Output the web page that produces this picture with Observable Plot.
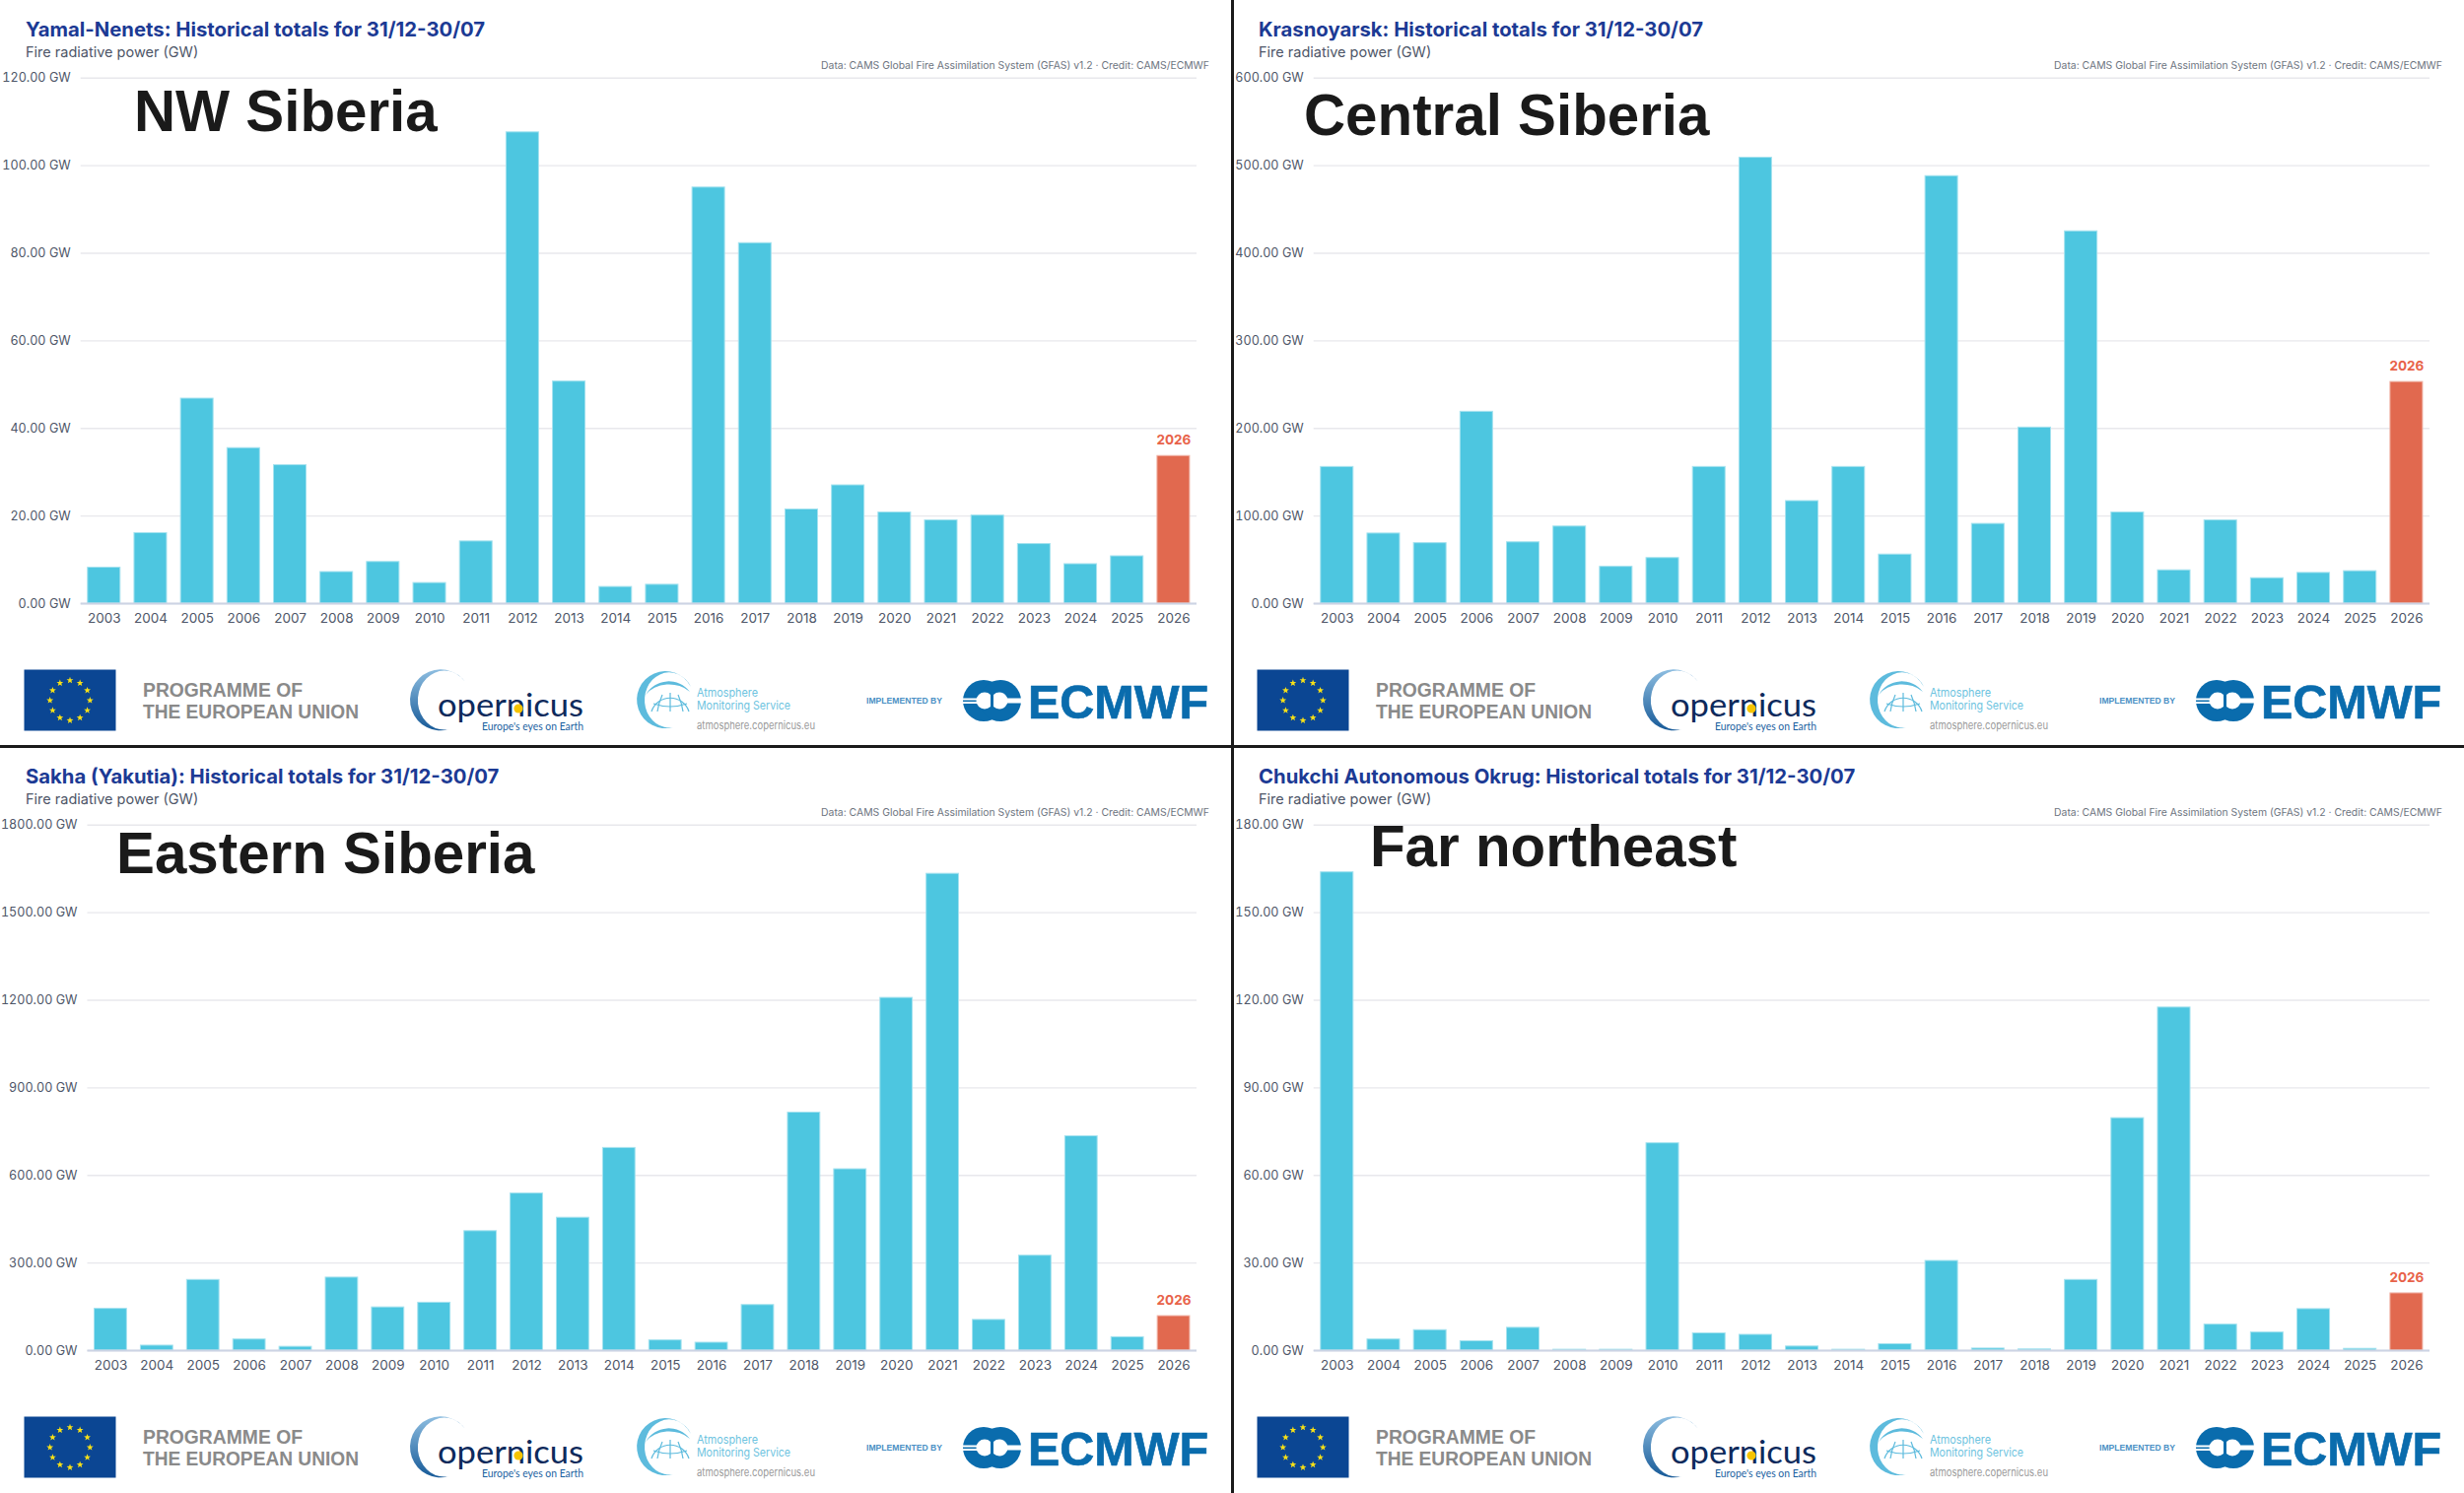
<!DOCTYPE html>
<html>
<head>
<meta charset="utf-8">
<script src="https://cdn.jsdelivr.net/npm/d3@7"></script>
<script src="https://cdn.jsdelivr.net/npm/@observablehq/plot@0.6"></script>
<style>
html,body{margin:0;padding:0;background:#fff;}
#page{position:relative;width:2500px;height:1515px;overflow:hidden;background:#fff;font-family:Inter,sans-serif;}
.title{position:absolute;font:700 20.3px/24px Inter,sans-serif;color:#1c3a94;white-space:nowrap;}
.sub{position:absolute;font:400 14.5px/18px Inter,sans-serif;color:#4e5668;white-space:nowrap;}
.credit{position:absolute;font:400 10.4px/14px Inter,sans-serif;color:#6d7480;white-space:nowrap;text-align:right;}
.chart{position:absolute;}
.rule{position:absolute;background:#1a1a1a;}
#overlay{position:absolute;left:0;top:0;pointer-events:none;}
</style>
</head>
<body>
<div id="page"></div>
<script>
const years = [2003,2004,2005,2006,2007,2008,2009,2010,2011,2012,2013,2014,2015,2016,2017,2018,2019,2020,2021,2022,2023,2024,2025,2026];
const yamal = [8.2,16.1,46.8,35.5,31.6,7.2,9.5,4.7,14.2,107.6,50.7,3.8,4.3,95,82.3,21.5,27,20.8,19,20.1,13.6,9,10.8,33.7];
const krasnoyarsk = [156,80,69,219,70,88,42,52,156,509,117,156,56,488,91,201,425,104,38,95,29,35,37,253];
const sakha = [143,17,242,38,13,250,148,164,409,538,455,694,35,27,156,815,621,1208,1633,105,325,734,46,118];
const chukchi = [163.8,3.8,7,3.2,7.8,0.3,0.3,71,5.9,5.4,1.4,0.3,2.2,30.7,0.7,0.4,24.2,79.6,117.5,8.9,6.2,14.2,0.6,19.6];
const yTicksA = [0,20,40,60,80,100,120];
const yTicksB = [0,100,200,300,400,500,600];
const yTicksC = [0,300,600,900,1200,1500,1800];
const yTicksD = [0,30,60,90,120,150,180];
const titles = ["Yamal-Nenets: Historical totals for 31/12-30/07","Krasnoyarsk: Historical totals for 31/12-30/07","Sakha (Yakutia): Historical totals for 31/12-30/07","Chukchi Autonomous Okrug: Historical totals for 31/12-30/07"];
const regionLabels = ["NW Siberia","Central Siberia","Eastern Siberia","Far northeast"];
const subtitle = "Fire radiative power (GW)";
const credit = "Data: CAMS Global Fire Assimilation System (GFAS) v1.2 · Credit: CAMS/ECMWF";
const currentYear = 2026;

const BLUE = "#4dc6e0", RED = "#e1694f";
const panels = [
  {x:0,    y:0,   values:yamal,       ticks:yTicksA, ml:81.7, label:[136,133]},
  {x:1251, y:0,   values:krasnoyarsk, ticks:yTicksB, ml:81.7, label:[1323,137]},
  {x:0,    y:758, values:sakha,       ticks:yTicksC, ml:88.5, label:[118,885.5]},
  {x:1251, y:758, values:chukchi,     ticks:yTicksD, ml:81.7, label:[1390,878.5]}
];
const page = document.getElementById("page");

function addDiv(cls, text, left, top, extra){
  const d = document.createElement("div");
  d.className = cls; d.textContent = text;
  d.style.left = left + "px"; d.style.top = top + "px";
  if (extra) Object.assign(d.style, extra);
  page.appendChild(d);
}

panels.forEach((p, i) => {
  addDiv("title", titles[i], p.x + 26, p.y + 18);
  addDiv("sub", subtitle, p.x + 26, p.y + 44);
  addDiv("credit", credit, p.x + 627, p.y + 60, {width:"600px"});
  const rows = years.map((year, k) => ({year, value:p.values[k]}));
  const past = rows.filter(d => d.year !== currentYear);
  const now = rows.filter(d => d.year === currentYear);
  const top = p.ticks[p.ticks.length - 1];
  const chart = Plot.plot({
    width:1250, height:600,
    marginLeft:p.ml, marginRight:36, marginTop:18.7, marginBottom:48,
    style:{fontFamily:"Inter, sans-serif", fontSize:"13.5px", color:"#4e5668", background:"transparent"},
    x:{domain:years, paddingInner:0.3, paddingOuter:0.15, round:false, label:null},
    y:{domain:[0, top], label:null},
    marks:[
      Plot.gridY(p.ticks, {stroke:"#e8e8ec", strokeOpacity:1, strokeWidth:1.4}),
      Plot.barY(past, {x:"year", y:"value", fill:BLUE, stroke:"#a5e2ef", strokeWidth:1}),
      Plot.barY(now, {x:"year", y:"value", fill:RED, stroke:"#f0b5a8", strokeWidth:1}),
      Plot.ruleY([0], {stroke:"#ccd3e4", strokeWidth:2}),
      Plot.text(now, {x:"year", y:"value", text:d => String(d.year), fill:"#e8634a", fontWeight:700, fontSize:13.5, dy:-16}),
      Plot.axisY(p.ticks, {tickSize:0, tickPadding:10.5, label:null, tickFormat:d => d.toFixed(2) + " GW", fill:"#4e5668", fontSize:12.6}),
      Plot.axisX(years, {tickSize:0, tickPadding:10, label:null, tickFormat:d => String(d), fill:"#4e5668"})
    ]
  });
  chart.classList.add("chart");
  chart.style.position = "absolute";
  chart.style.left = p.x + "px";
  chart.style.top = (p.y + 60) + "px";
  page.appendChild(chart);
});

// dividers between the four panels
const v = document.createElement("div"); v.className="rule";
Object.assign(v.style,{left:"1249px",top:"0",width:"3.2px",height:"1515px"}); page.appendChild(v);
const h = document.createElement("div"); h.className="rule";
Object.assign(h.style,{left:"0",top:"755.8px",width:"2500px",height:"3.4px"}); page.appendChild(h);

function star(cx, cy, r){
  let pts = [];
  for (let k = 0; k < 10; k++){
    const a = -Math.PI/2 + k*Math.PI/5, q = k%2 ? r*0.42 : r;
    pts.push((cx+q*Math.cos(a)).toFixed(2)+","+(cy+q*Math.sin(a)).toFixed(2));
  }
  return `<polygon points="${pts.join(" ")}" fill="#f7e017"/>`;
}
function footer(dx, dy){
  let stars = "";
  for (let k = 0; k < 12; k++){
    const a = k*Math.PI/6;
    stars += star(71 + 20.3*Math.cos(a), 710.7 + 20.3*Math.sin(a), 3.6);
  }
  return `<g transform="translate(${dx},${dy})">
  <rect x="24.5" y="679.5" width="93" height="62" fill="#0b4693"/>${stars}
  <text x="145" y="707" font-family="Liberation Sans" font-weight="700" font-size="19.5" fill="#8a8a8a" textLength="162" lengthAdjust="spacingAndGlyphs">PROGRAMME OF</text>
  <text x="145" y="729" font-family="Liberation Sans" font-weight="700" font-size="19.5" fill="#8a8a8a" textLength="219" lengthAdjust="spacingAndGlyphs">THE EUROPEAN UNION</text>
  <path d="M475 697 A31 31 0 1 0 456 740 A27 30 0 1 1 475 697 Z" fill="url(#cop)"/>
  <text x="444" y="727" font-family="Lato" font-weight="400" font-size="33" fill="#0d2a5c" textLength="148" lengthAdjust="spacingAndGlyphs">opernicus</text>
  <circle cx="526" cy="719" r="4.6" fill="#f5c400"/>
  <text x="489" y="741" font-family="Lato" font-weight="400" font-size="12" fill="#1a5f9f" textLength="103" lengthAdjust="spacingAndGlyphs">Europe's eyes on Earth</text>
  <path d="M701 697 A29 29 0 1 0 683 738 A25 28 0 1 1 701 697 Z" fill="#5dbbdd"/>
  <path d="M655 705 A27 27 0 0 1 700 702 A28 22 0 0 0 655 705 Z" fill="#5dbbdd"/>
  <g fill="none" stroke="#5dbbdd" stroke-width="1.2">
    <path d="M661 722 A20 20 0 0 1 699 722"/>
    <path d="M663 714 Q680 720 697 714"/>
    <path d="M680 703 V722"/>
    <path d="M672 705 Q668 714 667 722"/>
    <path d="M688 705 Q692 714 693 722"/>
  </g>
  <text x="707" y="707" font-family="Inter" font-size="12" fill="#6dc3e0" textLength="62" lengthAdjust="spacingAndGlyphs">Atmosphere</text>
  <text x="707" y="719.5" font-family="Inter" font-size="12" fill="#6dc3e0" textLength="95" lengthAdjust="spacingAndGlyphs">Monitoring Service</text>
  <text x="707" y="740" font-family="Inter" font-size="11" fill="#9a9a9a" textLength="120" lengthAdjust="spacingAndGlyphs">atmosphere.copernicus.eu</text>
  <text x="879" y="714" font-family="Liberation Sans" font-weight="700" font-size="9" fill="#4a90c4" textLength="77" lengthAdjust="spacingAndGlyphs">IMPLEMENTED BY</text>
  <circle cx="998" cy="711" r="21" fill="#0a6cad"/><circle cx="1015" cy="711" r="21" fill="#0a6cad"/>
  <circle cx="999" cy="711" r="8.5" fill="#fff"/><circle cx="1014" cy="711" r="8.5" fill="#fff"/>
  <rect x="977" y="708.5" width="19" height="2" fill="#fff"/>
  <rect x="1020" y="708.5" width="17" height="5" fill="#fff"/>
  <rect x="977" y="712" width="22" height="2" fill="#fff"/>
  <path d="M1006.5 703 V719" stroke="#0a6cad" stroke-width="3"/>
  <text x="1043" y="729" font-family="Liberation Sans" font-weight="700" font-size="49" fill="#0a6cad" stroke="#0a6cad" stroke-width="0.7" textLength="183" lengthAdjust="spacingAndGlyphs">ECMWF</text>
  </g>`;
}
const ov = document.createElementNS("http://www.w3.org/2000/svg","svg");
ov.setAttribute("id","overlay"); ov.setAttribute("width","2500"); ov.setAttribute("height","1515");
ov.innerHTML = `<defs><linearGradient id="cop" x1="0" y1="0" x2="0" y2="1"><stop offset="0" stop-color="#8dbde0"/><stop offset="1" stop-color="#175a98"/></linearGradient></defs>`
  + panels.map(p => footer(p.x, p.y)).join("")
  + panels.map((p,i) => `<text x="${p.label[0]}" y="${p.label[1]}" font-family="Liberation Sans" font-weight="700" font-size="58.3" fill="#1a1a1a">${regionLabels[i]}</text>`).join("");
page.appendChild(ov);
</script>
</body>
</html>
